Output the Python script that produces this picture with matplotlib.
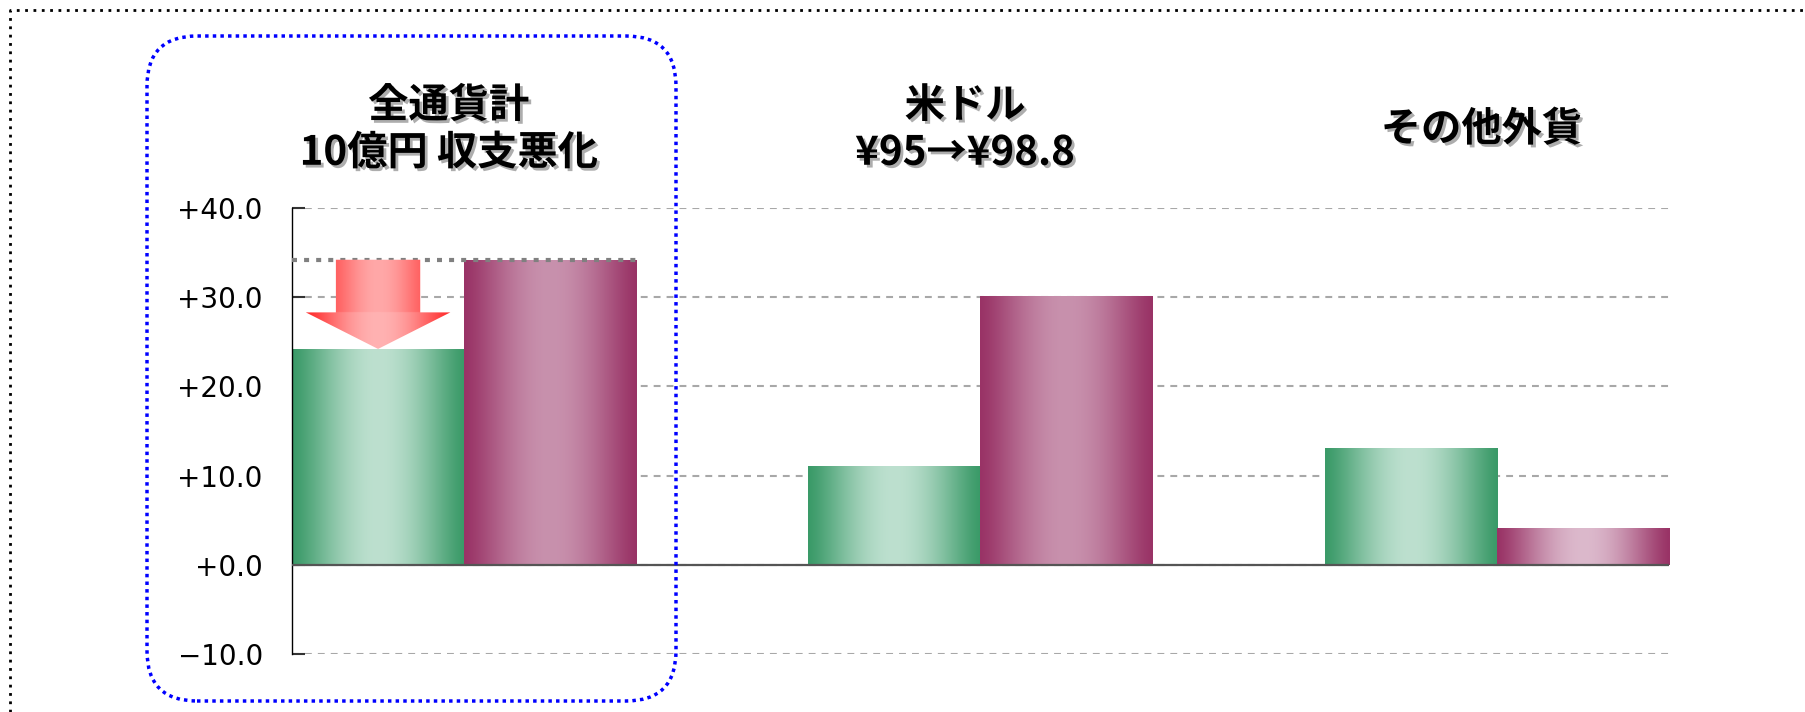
import matplotlib
matplotlib.use('Agg')
import matplotlib.pyplot as plt
import matplotlib.patheffects as pe
import matplotlib.transforms as mtransforms
from matplotlib.patches import Polygon, FancyBboxPatch
from matplotlib.lines import Line2D
from matplotlib.colors import to_rgb
import numpy as np

plt.rcParams['font.family'] = ['Noto Sans CJK JP', 'DejaVu Sans']

# ---- data ----
titles = ['全通貨計\n10億円 収支悪化', '米ドル\n¥95→¥98.8', 'その他外貨']
green_vals = [24.2, 11.1, 13.1]     # left bars
purple_vals = [34.2, 30.1, 4.1]     # right bars
yticks = [-10, 0, 10, 20, 30, 40]
ytick_labels = ['\u221210.0', '+0.0', '+10.0', '+20.0', '+30.0', '+40.0']

# ---- styles ----
green_edge, green_mid = '#3a9a68', '#bde0cf'
purple_edge = '#993366'
purple_mid = ['#c891ad', '#c891ad', '#dcb9cc']


def gradient_fill(ax, patch, edge, mid, z):
    """ paint a left-right metallic gradient inside a bar """
    t = np.linspace(0, 1, 256)
    m = np.sin(np.pi * t) ** 1.3
    e = np.array(to_rgb(edge))
    c = np.array(to_rgb(mid))
    img = e[None, :] * (1 - m[:, None]) + c[None, :] * m[:, None]
    x0, y0 = patch.get_x(), patch.get_y()
    im = ax.imshow(img[None, :, :], extent=[x0, x0 + patch.get_width(), y0, y0 + patch.get_height()],
                   aspect='auto', zorder=z, interpolation='bilinear')
    im.set_clip_path(patch)


fig = plt.figure(figsize=(18.05, 7.12), dpi=100)
ax = fig.add_axes([292 / 1805, 58 / 712, (1669 - 292) / 1805, (654 - 208) / 712])

x = np.arange(len(titles))
w = 1 / 3
centers = x + w
gbars = ax.bar(centers - w / 2, green_vals, width=w, color=green_edge, zorder=2)
pbars = ax.bar(centers + w / 2, purple_vals, width=w, color=purple_edge, zorder=2)
for b in gbars:
    gradient_fill(ax, b, green_edge, green_mid, 2.5)
for b, mid in zip(pbars, purple_mid):
    gradient_fill(ax, b, purple_edge, mid, 2.5)

# grid + zero line
ax.set_yticks(yticks)
ax.set_yticklabels(ytick_labels, fontfamily='DejaVu Sans', fontsize=20)
ax.yaxis.grid(True, color='#a8a8a8', lw=1.5, ls=(0, (3.3, 2.9)), zorder=0)
ax.axhline(0, color='#555555', lw=1.6, zorder=4)
ax.tick_params(axis='y', direction='in', length=9, width=1.5, pad=21, color='#333333')
ax.tick_params(axis='x', bottom=False, labelbottom=False)
for s in ['top', 'right', 'bottom']:
    ax.spines[s].set_visible(False)
ax.spines['left'].set_linewidth(1)
ax.set_axisbelow(True)
ax.set_xlim(centers[0] - w, centers[-1] + w)

# dotted reference line at old level + arrow showing the drop
g0, p0 = gbars[0], pbars[0]
top, tip = purple_vals[0], green_vals[0]
ax.plot([ax.get_xlim()[0], p0.get_x() + p0.get_width()], [top, top],
        color='#808080', lw=3, ls=(0, (1.2, 1.7)), zorder=5, solid_capstyle='butt')

cx = g0.get_x() + g0.get_width() / 2
sw = 0.245 * w
hw = 0.42 * w
neck = tip + 0.41 * (top - tip)
arrow = Polygon([[cx - sw, top], [cx + sw, top], [cx + sw, neck], [cx + hw, neck],
                 [cx, tip], [cx - hw, neck], [cx - sw, neck]],
                closed=True, facecolor='none', edgecolor='none', zorder=6)
ax.add_patch(arrow)
nx, ny = 300, 200
xs = np.linspace(cx - hw, cx + hw, nx)
ys = np.linspace(top, tip, ny)
img = np.ones((ny, nx, 3))
for i, yy in enumerate(ys):
    if yy > neck:
        half, e, c = sw, np.array(to_rgb('#ff6262')), np.array(to_rgb('#ffa8a8'))
    else:
        half, e, c = hw, np.array(to_rgb('#ff2a2a')), np.array(to_rgb('#ffb2b2'))
    d = np.clip(np.abs(xs - cx) / half, 0, 1)
    m = np.cos(d * np.pi / 2) ** 1.2
    img[i] = e[None, :] * (1 - m[:, None]) + c[None, :] * m[:, None]
im = ax.imshow(img, extent=[cx - hw, cx + hw, tip, top], aspect='auto', zorder=6,
               interpolation='bilinear')
im.set_clip_path(arrow)

ax.set_xlim(centers[0] - w, centers[-1] + w)
ax.set_ylim(-10, 40)

# group titles
trans = mtransforms.blended_transform_factory(ax.transData, fig.transFigure)
shadow = [pe.withSimplePatchShadow(offset=(2, -2), shadow_rgbFace='#777777', alpha=0.6)]
for c, t in zip(centers, titles):
    ax.text(c - 0.03, 0.818, t, transform=trans, ha='center', va='center',
            fontsize=29, fontweight='bold', linespacing=1.2, path_effects=shadow)

# outer dotted frame
fig.add_artist(Line2D([10 / 1805, 10 / 1805, 1], [0, 1 - 10 / 712, 1 - 10 / 712],
                      transform=fig.transFigure, color='black', lw=2, ls=(0, (1, 2))))

# blue rounded highlight box
box = FancyBboxPatch((1.47, 0.11), 5.29, 6.65, boxstyle='round,pad=0,rounding_size=0.5',
                     transform=fig.dpi_scale_trans, fill=False, edgecolor='#0000ff',
                     lw=2.5, ls=(0, (1, 1.2)))
fig.add_artist(box)

fig.savefig('out.png', dpi=100)
